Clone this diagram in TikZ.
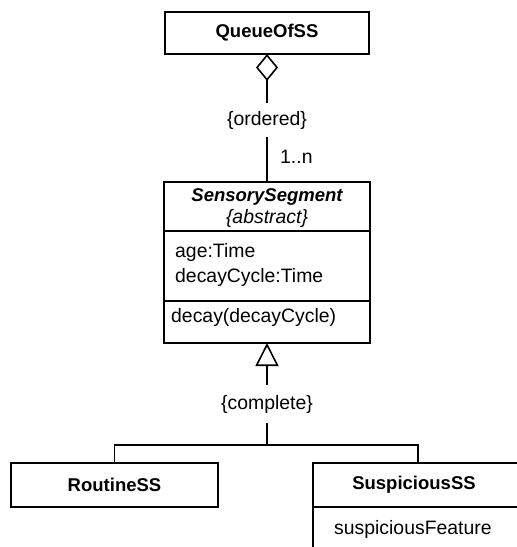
\documentclass[tikz,border=0pt]{standalone}
\usepackage{fontspec}
\setmainfont{Liberation Sans}
\usetikzlibrary{arrows.meta}
\begin{document}
\begin{tikzpicture}[x=1pt,y=-1pt,
  every node/.style={font=\fontsize{19.4}{22}\selectfont, inner sep=0pt},
  bold/.style={font=\fontsize{18.5}{22}\selectfont\bfseries},
  classbox/.style={draw, line width=1.6pt, rectangle, outer sep=0pt},
  link/.style={line width=1.6pt},
  aggtip/.style={{Diamond[open,length=27pt,width=22pt]}-},
  gentip/.style={-{Triangle[open,length=23pt,width=23pt]}}]
\useasboundingbox (0,0) rectangle (517,547);
\clip (0,0) rectangle (517,547);

% classes
\node[classbox, bold, minimum width=204pt, minimum height=42pt] (queue) at (267,33) {QueueOfSS};

\node[classbox, minimum width=206pt, minimum height=161pt] (seg) at (267,262.5) {};
\draw[link] (seg.west |- 0,231) -- (seg.east |- 0,231);
\draw[link] (seg.west |- 0,301) -- (seg.east |- 0,301);
\node[bold] (segname) at (267,197) {\itshape SensorySegment};
\node (segabs) at (267,218) {\itshape\{abstract\}};
\node[anchor=west] (age) at (175,252) {age:Time};
\node[anchor=west] (cycle) at (175,277) {decayCycle:Time};
\node[anchor=west] (decay) at (171,317) {decay(decayCycle)};

\node[classbox, bold, minimum width=207pt, minimum height=44pt] (routine) at (114.5,485) {RoutineSS};

\node[classbox, minimum width=210pt, minimum height=137pt] (susp) at (418,531.5) {};
\draw[link] (susp.west |- 0,507) -- (susp.east |- 0,507);
\node[bold] (suspname) at (414,485) {SuspiciousSS};
\node[anchor=west] (feature) at (334,529) {suspiciousFeature};

% aggregation
\node[minimum height=34pt] (ordered) at (267,120) {\{ordered\}};
\node[anchor=west] (mult) at (280,157) {1..n};
\draw[link, aggtip] (queue.south) -- (ordered.north);
\draw[link] (ordered.south) -- (seg.north);

% generalization
\node[minimum height=38pt] (complete) at (267,404) {\{complete\}};
\coordinate (jn) at (267,445);
\draw[link, gentip] (complete.north) -- (seg.south);
\draw[link] (complete.south) -- (jn);
\draw[link] (routine.north) |- (jn) -| (susp.north);
\end{tikzpicture}
\end{document}
